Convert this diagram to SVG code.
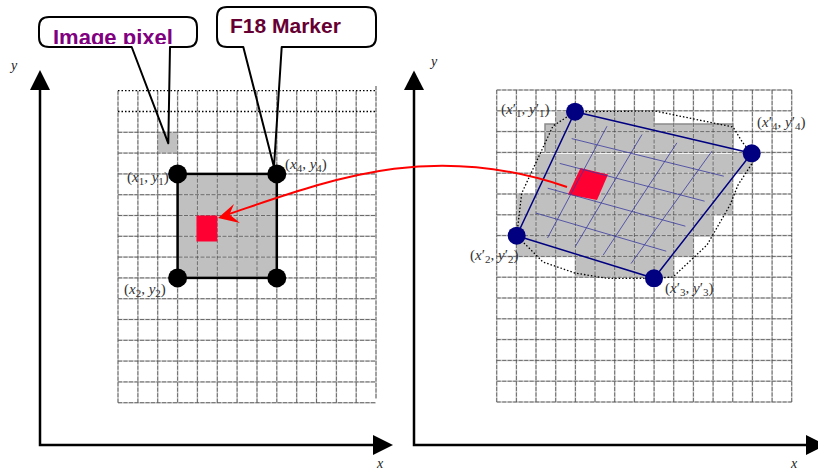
<svg xmlns="http://www.w3.org/2000/svg" width="818" height="473" viewBox="0 0 818 473">
<style>
.axis{stroke:#000;stroke-width:2.5;fill:none}
.ah{fill:#000}
.gu{fill:none;stroke:#c8c8c8;stroke-width:1.5}
.go{fill:none;stroke:#444;stroke-width:0.7;stroke-dasharray:4 1.5}
.dot{fill:none;stroke:#000;stroke-width:1.3;stroke-dasharray:1.5 2}
.call{fill:none;stroke:#000;stroke-width:2;stroke-linejoin:round}
.lbl{font-family:"Liberation Serif","Times New Roman",serif;font-size:15px;fill:#333}
.i{font-style:italic}
.s{font-size:11px}
.ax{font-family:"Liberation Serif","Times New Roman",serif;font-size:14px;font-style:italic;fill:#222}
.gray{fill:#c0c0c0}
.qd{fill:none;stroke:#000080;stroke-width:1.5}
.qi{fill:none;stroke:#3a3aa0;stroke-width:0.8}
.bc{fill:#000080}
.kc{fill:#000}
.red{fill:#ff0033}
</style>
<defs>
<path id="gridL" d="M118 132.3H376M118 153.1H376M118 173.9H376M118 194.7H376M118 215.5H376M118 236.3H376M118 257.1H376M118 277.9H376M118 298.7H376M118 319.5H376M118 340.3H376M118 361.1H376M118 381.9H376M118 402.7H376M118 90.7V402.7M137.9 90.7V402.7M157.7 90.7V402.7M177.6 90.7V402.7M197.4 90.7V402.7M217.3 90.7V402.7M237.1 90.7V402.7M257 90.7V402.7M276.8 90.7V402.7M296.7 90.7V402.7M316.5 90.7V402.7M336.4 90.7V402.7M356.2 90.7V402.7M376 86V399"/>
<path id="gridR" d="M496.7 90H791.7M496.7 110.8H791.7M496.7 131.6H791.7M496.7 152.4H791.7M496.7 173.2H791.7M496.7 194H791.7M496.7 214.8H791.7M496.7 235.6H791.7M496.7 256.4H791.7M496.7 277.2H791.7M496.7 298H791.7M496.7 318.8H791.7M496.7 339.6H791.7M496.7 360.4H791.7M496.7 381.2H791.7M496.7 402H791.7M496.7 90V402M516.4 90V402M536 90V402M555.7 90V402M575.4 90V402M595 90V402M614.7 90V402M634.4 90V402M654.1 90V402M673.7 90V402M693.4 90V402M713.1 90V402M732.7 90V402M752.4 90V402M772.1 90V402M791.7 90V402"/>
<clipPath id="clipIP"><rect x="39" y="17" width="158" height="27"/></clipPath>
</defs>
<rect width="818" height="473" fill="#fff"/>

<g id="left-axes">
<path class="axis" d="M40 88V445H375"/>
<polygon class="ah" points="30,90 40,70 50,90"/>
<polygon class="ah" points="373,435 393,445 373,455"/>
<text class="ax" x="11" y="70">y</text>
<text class="ax" x="377" y="468">x</text>
</g>

<g id="right-axes">
<path class="axis" d="M414 88V445H808"/>
<polygon class="ah" points="404,90 414,70.5 424,90"/>
<polygon class="ah" points="806,435 826,445 806,455"/>
<text class="ax" x="431" y="66">y</text>
<text class="ax" x="791" y="468">x</text>
</g>

<g id="left-grid">
<rect id="image-pixel-cell" class="gray" x="157.7" y="132.3" width="19.9" height="20.8"/>
<rect id="marker-fill" class="gray" x="177.6" y="173.9" width="99.2" height="104"/>
<use href="#gridL" class="gu"/>
<use href="#gridL" class="go"/>
<path class="dot" d="M118 90.7H376M118 111.5H376"/>
</g>

<g id="left-marker">
<rect x="177.6" y="173.9" width="99.2" height="104" fill="none" stroke="#000" stroke-width="2.5"/>
<rect class="red" x="196.5" y="215.5" width="20.8" height="26"/>
<circle class="kc" cx="177.6" cy="173.9" r="9.5"/>
<circle class="kc" cx="276.8" cy="173.9" r="9.5"/>
<circle class="kc" cx="177.6" cy="277.9" r="9.5"/>
<circle class="kc" cx="276.8" cy="277.9" r="9.5"/>
<text class="lbl" x="127" y="182">(<tspan class="i">x</tspan><tspan class="s" dy="3">1</tspan><tspan dy="-3">, </tspan><tspan class="i">y</tspan><tspan class="s" dy="3">1</tspan><tspan dy="-3">)</tspan></text>
<text class="lbl" x="285" y="169">(<tspan class="i">x</tspan><tspan class="s" dy="3">4</tspan><tspan dy="-3">, </tspan><tspan class="i">y</tspan><tspan class="s" dy="3">4</tspan><tspan dy="-3">)</tspan></text>
<text class="lbl" x="124" y="294">(<tspan class="i">x</tspan><tspan class="s" dy="3">2</tspan><tspan dy="-3">, </tspan><tspan class="i">y</tspan><tspan class="s" dy="3">2</tspan><tspan dy="-3">)</tspan></text>
</g>

<g id="right-grid">
<polygon class="gray" points="555,111.7 655,111.7 655,124 733,124 733,153 752,153 752,173 733,173 733,215 713,215 713,236.7 693,236.7 693,256.7 673.5,256.7 673.5,276.7 575,276.7 575,256.7 516.5,256.7 516.5,194 536,194 536,153 545,153 545,124 555,124"/>
<path d="M536 153.2H733M585 173.3H752" stroke="#fff" stroke-width="1.6"/>
<path d="M545 153V124H555M655 124H733V153" fill="none" stroke="#8a8a8a" stroke-width="1.5"/>
<use href="#gridR" class="gu"/>
<use href="#gridR" class="go"/>
<polygon class="dot" points="575,111.7 655,111 733,127 743,143 751.7,153.3 753,162 738,185 730,205 707,245 673,277 654,278.3 606.7,278.3 575,273 543,262 516.7,235.7 521.7,193.3 553,126"/>
</g>

<g id="right-marker">
<polygon class="red" points="580.5,168 608,174.5 597,200 568,194.5"/>
<path class="qi" d="M571.7 138.6L723.8 176.2M559.7 163.4L704.6 201.2M547.7 188.2L685.4 226.2M535.7 213L666.2 251.2M607 126.2L547.5 238M642 134.5L575.3 246.5M676.9 142.9L603.2 255.1M711.9 151.2L631 263.6"/>
<polygon class="qd" points="575,111.7 751.7,153.3 654,278.3 516.7,235.7"/>
<circle class="bc" cx="575" cy="111.7" r="9"/>
<circle class="bc" cx="751.7" cy="153.3" r="9"/>
<circle class="bc" cx="654" cy="278.3" r="9"/>
<circle class="bc" cx="516.7" cy="235.7" r="9"/>
<text class="lbl" x="501" y="114">(<tspan class="i">x</tspan>′<tspan class="s" dy="3">1</tspan><tspan dy="-3">, </tspan><tspan class="i">y</tspan>′<tspan class="s" dy="3">1</tspan><tspan dy="-3">)</tspan></text>
<text class="lbl" x="757" y="127">(<tspan class="i">x</tspan>′<tspan class="s" dy="3">4</tspan><tspan dy="-3">, </tspan><tspan class="i">y</tspan>′<tspan class="s" dy="3">4</tspan><tspan dy="-3">)</tspan></text>
<text class="lbl" x="470" y="260">(<tspan class="i">x</tspan>′<tspan class="s" dy="3">2</tspan><tspan dy="-3">, </tspan><tspan class="i">y</tspan>′<tspan class="s" dy="3">2</tspan><tspan dy="-3">)</tspan></text>
<text class="lbl" x="665" y="293">(<tspan class="i">x</tspan>′<tspan class="s" dy="3">3</tspan><tspan dy="-3">, </tspan><tspan class="i">y</tspan>′<tspan class="s" dy="3">3</tspan><tspan dy="-3">)</tspan></text>
</g>

<g id="callout-image-pixel">
<path class="call" d="M131.7 47L168.3 143.3L170 47H187Q197 47 197 37V27Q197 17 187 17H49Q39 17 39 27V37Q39 47 49 47Z"/>
<text x="53" y="45" clip-path="url(#clipIP)" font-family="Liberation Sans, Arial, sans-serif" font-weight="bold" font-size="22" fill="#800080">Image pixel</text>
</g>

<g id="callout-f18-marker">
<path class="call" d="M243.3 47L274 167L281.7 47H366Q376 47 376 37V17Q376 7 366 7H227Q217 7 217 17V37Q217 47 227 47Z"/>
<text x="230" y="33" font-family="Liberation Sans, Arial, sans-serif" font-weight="bold" font-size="21" fill="#660033">F18 Marker</text>
</g>

<g id="connectors">
<path d="M226 215C330 180 430 140 567 187" fill="none" stroke="#ff0000" stroke-width="2"/>
<polygon points="218,218 234,204 229.5,214.5 240,223" fill="#ff0000"/>
</g>
</svg>
